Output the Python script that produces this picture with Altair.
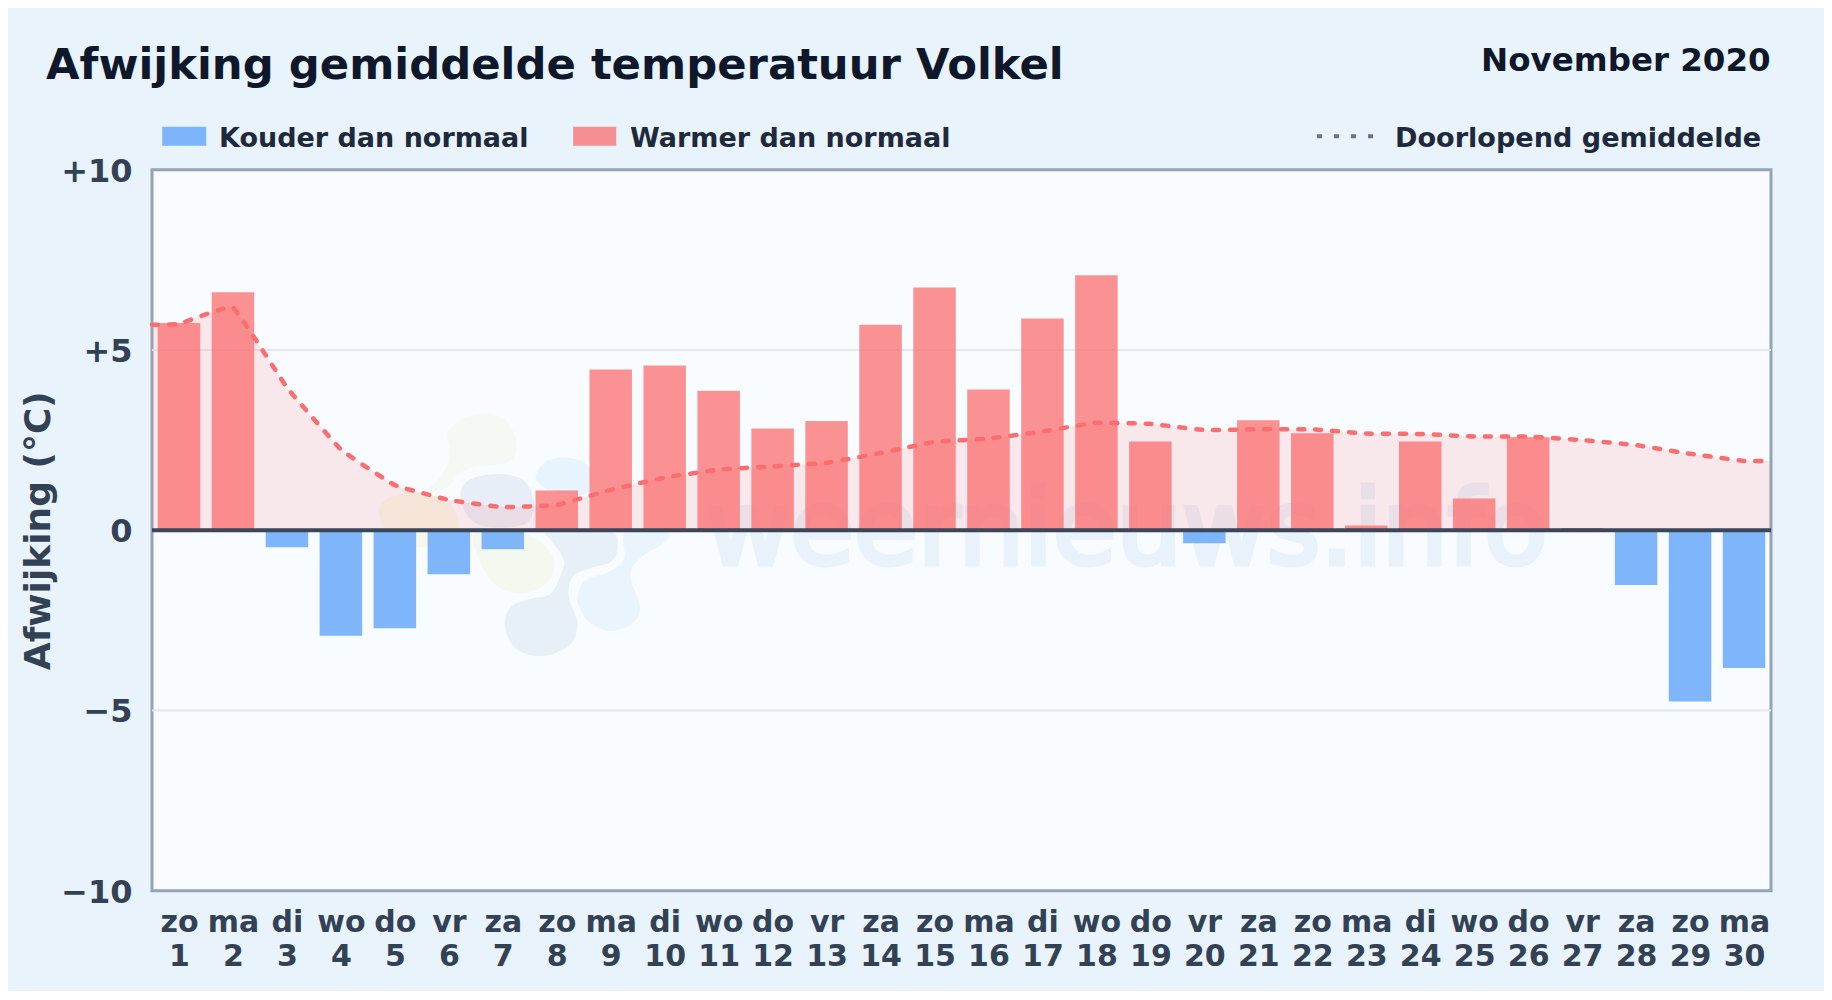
import altair as alt
import pandas as pd

days = list(range(1, 31))
weekdays = ["zo","ma","di","wo","do","vr","za","zo","ma","di","wo","do","vr","za","zo","ma","di","wo","do","vr","za","zo","ma","di","wo","do","vr","za","zo","ma"]
deviation = [5.75,6.60,-0.47,-2.93,-2.72,-1.22,-0.53,1.10,4.46,4.57,3.87,2.82,3.03,5.70,6.73,3.90,5.87,7.07,2.46,-0.36,3.05,2.69,0.13,2.46,0.88,2.58,0.06,-1.52,-4.75,-3.82]
mean_days = [0.5] + days + [30.5]
running_mean = [5.70,5.72,6.18,3.96,2.24,1.25,0.84,0.64,0.70,1.12,1.46,1.68,1.77,1.87,2.14,2.45,2.54,2.74,2.98,2.95,2.78,2.80,2.80,2.68,2.67,2.60,2.60,2.50,2.36,2.12,1.92,1.92]
grid_values = [-5, 5]

# Watermark logo outlines, traced on a 960 px wide box
logo_green = [(235,100),(275,58),(340,40),(405,55),(440,115),(435,170),(395,192),(320,200),(270,220),(235,262),(170,275),(205,240),(235,190),(240,140)]
logo_grey1 = [(275,270),(310,235),(385,222),(455,235),(490,285),(490,340),(460,375),(380,382),(320,370),(285,330)]
logo_blue1 = [(500,225),(530,185),(585,172),(640,185),(665,215),(660,270),(625,285),(540,270),(510,250)]
logo_peach = [(28,335),(55,295),(130,275),(210,290),(250,320),(270,385),(230,430),(140,440),(60,400)]
logo_yellow = [(310,415),(345,390),(420,385),(500,415),(550,470),(550,520),(510,565),(440,580),(380,555),(340,500)]
logo_grey2 = [(540,395),(720,395),(745,440),(725,485),(660,505),(610,530),(598,590),(625,670),(600,735),(520,768),(440,745),(408,680),(425,620),(490,595),(545,580),(580,510),(580,470),(545,420)]
logo_blue2 = [(770,395),(895,395),(880,430),(830,460),(790,500),(785,540),(812,620),(790,670),(725,692),(665,670),(635,630),(625,590),(650,540),(720,515),(765,475)]
logo_parts = [logo_green, logo_peach, logo_yellow, logo_grey1, logo_blue1, logo_grey2, logo_blue2]
logo_colors = ["#f4faf3", "#f8f8ea", "#f4f9ef", "#e7eef7", "#e7f3fd", "#e7eff7", "#e9f4fd"]

FONT = "DejaVu Sans"
KOUD = "Kouder dan normaal"
WARM = "Warmer dan normaal"
BG = "#e8f3fc"
RED = "#fb6e6f"


def outline(pts):
    u = [((x - 480) / 480, (y - 400) / 480) for x, y in pts]
    n = len(u)
    s = f"M{u[0][0]:.4f},{u[0][1]:.4f}"
    for i in range(n):
        p0, p1, p2, p3 = u[i - 1], u[i], u[(i + 1) % n], u[(i + 2) % n]
        c1 = (p1[0] + (p2[0] - p0[0]) / 6, p1[1] + (p2[1] - p0[1]) / 6)
        c2 = (p2[0] - (p3[0] - p1[0]) / 6, p2[1] - (p3[1] - p1[1]) / 6)
        s += f"C{c1[0]:.4f},{c1[1]:.4f} {c2[0]:.4f},{c2[1]:.4f} {p2[0]:.4f},{p2[1]:.4f}"
    return s + "Z"


bars_df = pd.DataFrame({"day": days, "dev": deviation})
bars_df["kind"] = [KOUD if v < 0 else WARM for v in deviation]
mean_df = pd.DataFrame({"day": mean_days, "mean": running_mean})
logo_df = pd.DataFrame({"day": [7.49] * 7, "val": [-0.09] * 7, "shape": [outline(p) for p in logo_parts], "c": logo_colors})

x_scale = alt.Scale(domain=[0.5, 30.5], nice=False, zero=False, padding=0)
y_scale = alt.Scale(domain=[-10, 10], nice=False)
names = "'" + " ".join(weekdays) + "'"

x_axis = alt.Axis(
    values=days, title=None, grid=False, domain=False, ticks=False,
    labelExpr=f"[split({names},' ')[datum.value-1], ''+datum.value]",
    labelFontSize=30, labelFont=FONT, labelFontWeight="bold", labelColor="#334155",
    labelAngle=0, labelOverlap=False, labelBound=False, labelFlush=False,
    labelPadding=17, labelLineHeight=34, labelBaseline="top",
)
y_axis = alt.Axis(
    values=[-10, -5, 0, 5, 10], title="Afwijking (°C)", grid=False,
    domain=False, ticks=False,
    labelExpr="datum.value>0?'+'+datum.value:(datum.value<0?'\u2212'+abs(datum.value):'0')",
    labelFontSize=32, labelFont=FONT, labelFontWeight="bold", labelColor="#334155", labelPadding=20, labelOffset=1.5,
    titleFontSize=36, titleFont=FONT, titleFontWeight="bold", titleColor="#334155", titlePadding=3,
)

logo = alt.Chart(logo_df).mark_point(filled=True, opacity=1, size=320 * 320).encode(
    x=alt.X("day:Q", scale=x_scale, axis=x_axis),
    y=alt.Y("val:Q", scale=y_scale, axis=y_axis),
    shape=alt.Shape("shape:N", scale=None, legend=None),
    color=alt.Color("c:N", scale=None, legend=None),
)
wm = alt.Chart(pd.DataFrame({"day": [18.56], "val": [-0.94], "t": ["weernieuws.info"]})).mark_text(
    font=FONT, fontSize=103.5, color="#e9f2fb", stroke="#e9f2fb", strokeWidth=5, align="center", baseline="alphabetic"
).encode(x=alt.X("day:Q", scale=x_scale), y=alt.Y("val:Q", scale=y_scale), text="t:N")

grid = alt.Chart(pd.DataFrame({"v": grid_values})).mark_rule(color="#e2e8f0", strokeWidth=2).encode(y=alt.Y("v:Q", scale=y_scale))
area = alt.Chart(mean_df).mark_area(color=RED, opacity=0.14, interpolate="cardinal", tension=0.75).encode(
    x=alt.X("day:Q", scale=x_scale), y=alt.Y("mean:Q", scale=y_scale), y2=alt.datum(0)
)
bars = alt.Chart(bars_df).mark_bar(size=42.5, orient="vertical").encode(
    x=alt.X("day:Q", scale=x_scale),
    y=alt.Y("dev:Q", scale=y_scale),
    y2=alt.datum(0),
    color=alt.Color("kind:N", scale=alt.Scale(domain=[KOUD, WARM], range=["#60a5fa", RED]), legend=None),
    opacity=alt.Opacity("kind:N", scale=alt.Scale(domain=[KOUD, WARM], range=[0.8, 0.75]), legend=None),
)
line = alt.Chart(mean_df).mark_line(color=RED, strokeWidth=4.5, strokeDash=[6, 11], strokeCap="round", interpolate="cardinal", tension=0.75).encode(
    x=alt.X("day:Q", scale=x_scale), y=alt.Y("mean:Q", scale=y_scale)
)
zero = alt.Chart(pd.DataFrame({"v": [0]})).mark_rule(color="#3a4659", strokeWidth=4).encode(y=alt.Y("v:Q", scale=y_scale))


def txt(s, x, y, size, color, align="left"):
    return alt.Chart(pd.DataFrame({"t": [s]})).mark_text(
        font=FONT, fontWeight="bold", fontSize=size, color=color, align=align, baseline="alphabetic"
    ).encode(x=alt.value(x), y=alt.value(y), text="t:N")


def swatch(x0, x1, color, op):
    return alt.Chart(pd.DataFrame({"a": [0]})).mark_rect(color=color, opacity=op).encode(
        x=alt.value(x0), x2=alt.value(x1), y=alt.value(-43), y2=alt.value(-24)
    )


title = txt("Afwijking gemiddelde temperatuur Volkel", -106, -90.7, 43.35, "#0f172a")
month = txt("November 2020", 1618.7, -98.9, 32.5, "#0f172a", "right")
leg1 = txt(KOUD, 67, -23, 27, "#1e293b")
leg2 = txt(WARM, 478, -23, 27, "#1e293b")
leg3 = txt("Doorlopend gemiddelde", 1243, -23, 27.1, "#1e293b")
sw1 = swatch(10.2, 54.2, "#60a5fa", 0.8)
sw2 = swatch(421.2, 464.2, RED, 0.75)
dots = alt.Chart(pd.DataFrame({"a": [0]})).mark_rule(color="#64748b", strokeWidth=4, strokeDash=[5, 12]).encode(
    x=alt.value(1165), x2=alt.value(1221.7), y=alt.value(-33.5)
)

chart = alt.layer(
    logo, wm, grid, area, bars, line, zero, title, month, sw1, leg1, sw2, leg2, dots, leg3
).resolve_scale(color="independent", shape="independent", opacity="independent").properties(
    width=1619, height=721, background=BG,
    padding={"left": 144, "top": 161.7, "right": 53, "bottom": 100},
    autosize=alt.AutoSizeParams(type="none"),
).configure_view(fill="#f8fbff", stroke="#94a3b8", strokeWidth=3)

chart.save("out.html", embed_options={"renderer": "svg", "actions": False})
